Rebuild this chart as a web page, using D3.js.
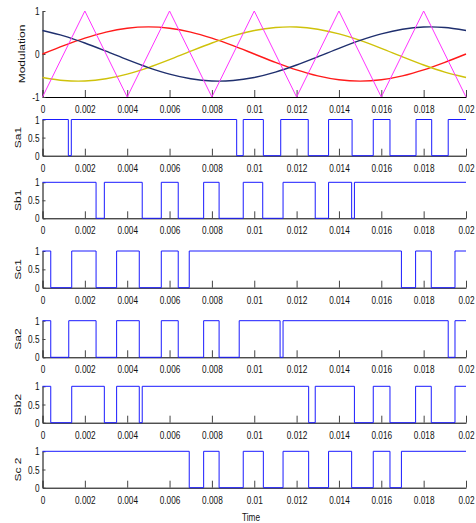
<!DOCTYPE html>
<html>
<head>
<meta charset="utf-8">
<script src="https://cdn.jsdelivr.net/npm/d3@7"></script>
<style>
  body { margin: 0; background: #fff; }
  text { font-family: "Liberation Sans", Arial, sans-serif; fill: #111; }
</style>
</head>
<body>
<div id="chart"></div>
<script>
// eje de tiempo
var tickTimes = [0, 0.002, 0.004, 0.006, 0.008, 0.01, 0.012, 0.014, 0.016, 0.018, 0.02];
var tickLabels = ["0", "0.002", "0.004", "0.006", "0.008", "0.01", "0.012", "0.014", "0.016", "0.018", "0.02"];

var sineTimes = [0, 0.001, 0.002, 0.003, 0.004, 0.005, 0.006, 0.007, 0.008, 0.009, 0.01,
                 0.011, 0.012, 0.013, 0.014, 0.015, 0.016, 0.017, 0.018, 0.019, 0.02];
var modRed = [0, 0.195, 0.37, 0.51, 0.6, 0.63, 0.6, 0.51, 0.37, 0.195, 0,
              -0.195, -0.37, -0.51, -0.6, -0.63, -0.6, -0.51, -0.37, -0.195, 0];
var modYellow = [-0.546, -0.616, -0.627, -0.576, -0.468, -0.315, -0.131, 0.066, 0.256, 0.422, 0.546,
                 0.616, 0.627, 0.576, 0.468, 0.315, 0.131, -0.066, -0.256, -0.422, -0.546];
var modNavy = [0.546, 0.422, 0.256, 0.066, -0.131, -0.315, -0.468, -0.576, -0.627, -0.616, -0.546,
               -0.422, -0.256, -0.066, 0.131, 0.315, 0.468, 0.576, 0.627, 0.616, 0.546];

// portadora triangular
var carrierTimes = [0, 0.002, 0.004, 0.006, 0.008, 0.01, 0.012, 0.014, 0.016, 0.018, 0.02];
var carrierValues = [-1, 1, -1, 1, -1, 1, -1, 1, -1, 1, -1];

// señales de conmutación: estado inicial y tiempos de cambio (s)
var switchNames = ["Sa1", "Sb1", "Sc1", "Sa2", "Sb2", "Sc 2"];
var switchStart = [1, 1, 1, 1, 1, 1];
var sa1Edges = [0.00122, 0.00136, 0.00917, 0.00948, 0.01043, 0.01125, 0.01255, 0.01351, 0.01462,
                0.01562, 0.01641, 0.01764, 0.01838, 0.01916];
var sb1Edges = [0.00253, 0.00292, 0.00471, 0.00561, 0.00641, 0.00761, 0.00834, 0.00948, 0.0104,
                0.01136, 0.01288, 0.01351, 0.0146, 0.01473];
var sc1Edges = [0.00039, 0.00138, 0.00253, 0.0035, 0.00457, 0.00561, 0.00641, 0.00693, 0.01695,
                0.01762, 0.01836, 0.01948];
var sa2Edges = [0.00039, 0.00124, 0.00253, 0.0035, 0.00457, 0.00561, 0.00641, 0.00761, 0.00834,
                0.00929, 0.01122, 0.01136, 0.01916, 0.01948];
var sb2Edges = [0.00039, 0.00138, 0.00292, 0.0035, 0.00457, 0.00471, 0.01257, 0.01288, 0.01473,
                0.01562, 0.01641, 0.01762, 0.01836, 0.01948];
var sc2Edges = [0.00693, 0.00761, 0.00834, 0.00948, 0.01043, 0.01136, 0.01257, 0.01351, 0.0146,
                0.01562, 0.01641, 0.01695];
var switchEdges = [sa1Edges, sb1Edges, sc1Edges, sa2Edges, sb2Edges, sc2Edges];

var svgWidth = 476, svgHeight = 523;
var left = 42.5, right = 466;

// posición vertical de cada panel (top = valor máximo, bottom = eje)
var modPanel = {top: 11, bottom: 97};
var switchPanels = [
  {top: 119.5, bottom: 155.7},
  {top: 182.3, bottom: 218.3},
  {top: 251, bottom: 287.7},
  {top: 320.7, bottom: 357.3},
  {top: 386.3, bottom: 422.7},
  {top: 451.3, bottom: 487.7}
];

var svg = d3.select("#chart")
  .append("svg")
    .attr("width", svgWidth)
    .attr("height", svgHeight);

svg.append("rect").attr("width", svgWidth).attr("height", svgHeight).attr("fill", "#fff");

var xScale = d3.scaleLinear().domain([0, 0.02]).range([left, right]);

function drawAxes(yScale, yTicks, yTickLabels, bottom, label, labelX) {
  var gx = svg.append("g")
    .attr("transform", "translate(0," + bottom + ")")
    .call(d3.axisBottom(xScale)
      .tickValues(tickTimes)
      .tickFormat(function(d, i) { return tickLabels[i]; })
      .tickSizeInner(-7)
      .tickSizeOuter(0)
      .tickPadding(8));
  gx.select(".domain").attr("stroke", "#000");
  gx.selectAll(".tick line").attr("stroke", "#444");
  gx.selectAll(".tick text")
    .attr("transform", "scale(0.75,1)")
    .style("font-size", "11px")
    .style("font-family", "Liberation Sans, Arial, sans-serif")
    .attr("fill", "#111");

  var gy = svg.append("g")
    .attr("transform", "translate(" + left + ",0)")
    .call(d3.axisLeft(yScale)
      .tickValues(yTicks)
      .tickFormat(function(d, i) { return yTickLabels[i]; })
      .tickSizeInner(-3)
      .tickSizeOuter(0)
      .tickPadding(4));
  gy.select(".domain").attr("stroke", "#000");
  gy.selectAll(".tick line").attr("stroke", "#444");
  gy.selectAll(".tick text")
    .attr("transform", "scale(0.75,1)")
    .style("font-size", "11px")
    .style("font-family", "Liberation Sans, Arial, sans-serif")
    .attr("fill", "#111");

  var r = yScale.range();
  svg.append("text")
    .attr("transform", "translate(" + labelX + "," + ((r[0] + r[1]) / 2) + ") scale(0.75,1) rotate(-90)")
    .attr("text-anchor", "middle")
    .style("font-size", "12px")
    .text(label);
}

// panel de modulación
var yMod = d3.scaleLinear().domain([-1, 1]).range([modPanel.bottom, modPanel.top]);
drawAxes(yMod, [-1, 0, 1], ["-1", "0", "1"], modPanel.bottom, "Modulation", 25);

var modLine = d3.line()
  .x(function(d) { return xScale(d[0]); })
  .y(function(d) { return yMod(d[1]); })
  .curve(d3.curveCardinal.tension(0.2));

var modSeries = [
  {values: modRed, color: "#ff1a1a"},
  {values: modYellow, color: "#cfc20a"},
  {values: modNavy, color: "#1f2f6e"}
];
modSeries.forEach(function(s) {
  svg.append("path")
    .datum(sineTimes.map(function(t, i) { return [t, s.values[i]]; }))
    .attr("fill", "none")
    .attr("stroke", s.color)
    .attr("stroke-width", 1.4)
    .attr("d", modLine);
});

svg.append("path")
  .datum(carrierTimes.map(function(t, i) { return [t, carrierValues[i]]; }))
  .attr("fill", "none")
  .attr("stroke", "#ff33ff")
  .attr("stroke-width", 1)
  .attr("d", d3.line()
    .x(function(d) { return xScale(d[0]); })
    .y(function(d) { return yMod(d[1]); }));

// paneles de conmutación
switchPanels.forEach(function(p, k) {
  var y = d3.scaleLinear().domain([0, 1]).range([p.bottom, p.top]);
  drawAxes(y, [0, 0.5, 1], ["0", "0.5", "1"], p.bottom, switchNames[k], 21);

  var state = switchStart[k];
  var pts = [[0, state]];
  switchEdges[k].forEach(function(e) {
    state = 1 - state;
    pts.push([e, state]);
  });
  pts.push([0.02, state]);

  svg.append("path")
    .datum(pts)
    .attr("fill", "none")
    .attr("stroke", "#1a1aff")
    .attr("stroke-width", 1)
    .attr("d", d3.line()
      .x(function(d) { return xScale(d[0]); })
      .y(function(d) { return y(d[1]); })
      .curve(d3.curveStepAfter));
});

// título del eje X
svg.append("text")
  .attr("transform", "translate(251,521) scale(0.75,1)")
  .attr("text-anchor", "middle")
  .style("font-size", "11px")
  .text("Time");
</script>
</body>
</html>
